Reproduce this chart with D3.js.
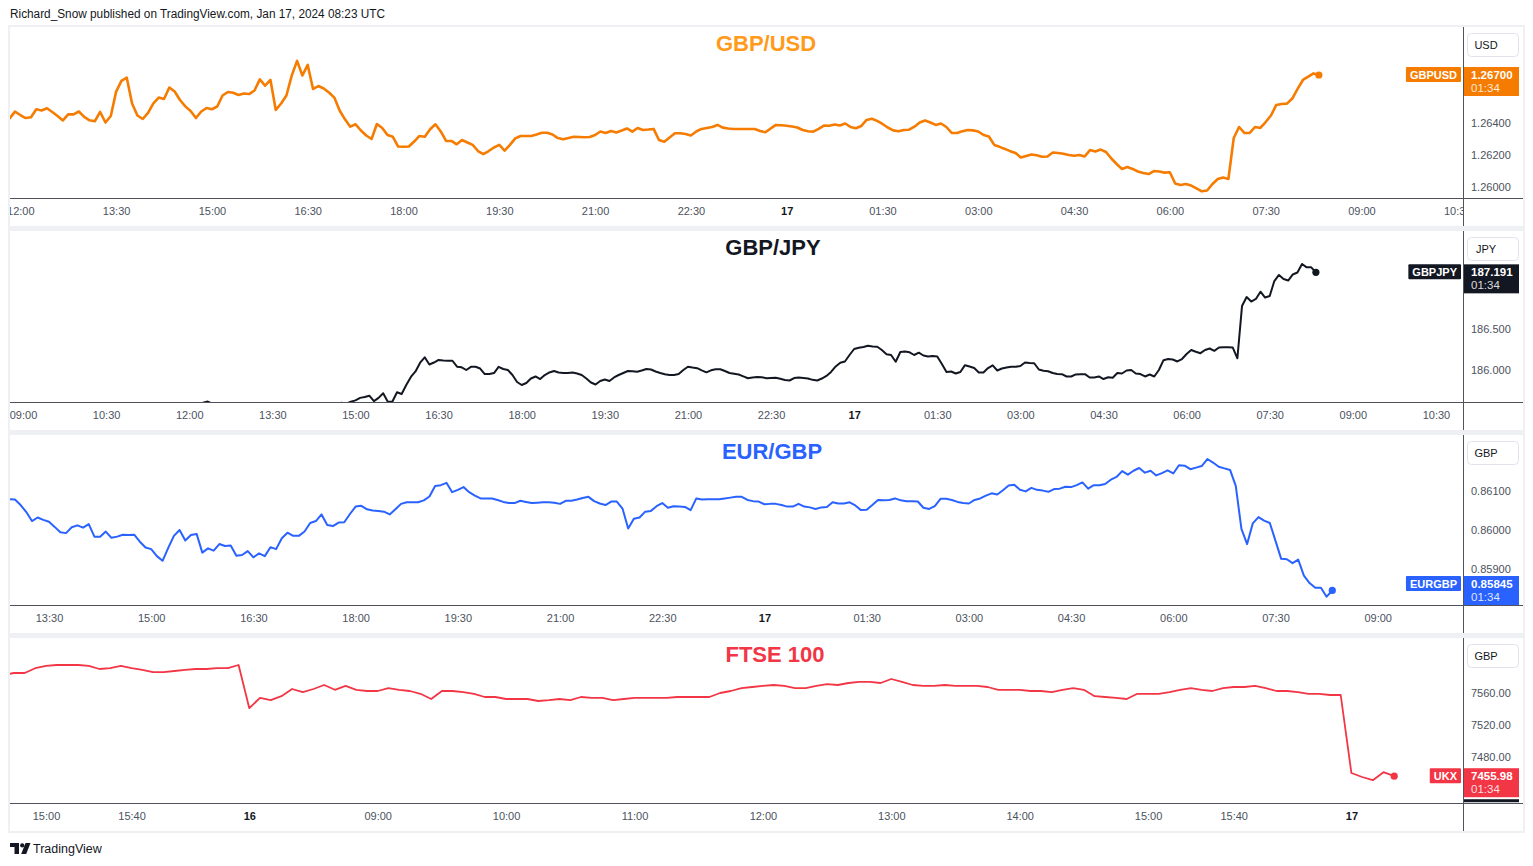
<!DOCTYPE html>
<html>
<head>
<meta charset="utf-8">
<script src="https://cdn.jsdelivr.net/npm/d3@7"></script>
<style>
  html, body { margin: 0; padding: 0; background: #fff; }
  svg { display: block; font-family: "Liberation Sans", Arial, sans-serif; }
</style>
</head>
<body>
<svg id="chart" width="1533" height="866"></svg>
<script>
// ---- data (5-minute closes, minutes counted from Jan 16 00:00 UTC) ----
const usdStart = 710;
const usdValues = [
  1.26429,1.26471,1.26450,1.26431,1.26436,1.26486,1.26478,1.26492,1.26469,1.26444,
  1.26416,1.26454,1.26454,1.26472,1.26438,1.26417,1.26411,1.26469,1.26403,1.26444,
  1.26596,1.26663,1.26683,1.26522,1.26447,1.26425,1.26463,1.26523,1.26559,1.26550,
  1.26622,1.26597,1.26544,1.26504,1.26475,1.26431,1.26472,1.26494,1.26486,1.26503,
  1.26572,1.26594,1.26589,1.26575,1.26584,1.26581,1.26603,1.26673,1.26633,1.26669,
  1.26481,1.26522,1.26572,1.26696,1.26788,1.26697,1.26763,1.26613,1.26631,1.26616,
  1.26591,1.26559,1.26478,1.26423,1.26377,1.26392,1.26353,1.26322,1.26300,1.26394,
  1.26369,1.26325,1.26314,1.26253,1.26252,1.26253,1.26284,1.26319,1.26314,1.26361,
  1.26392,1.26347,1.26288,1.26288,1.26267,1.26294,1.26278,1.26263,1.26225,1.26206,
  1.26225,1.26247,1.26263,1.26227,1.26263,1.26304,1.26319,1.26319,1.26319,1.26328,
  1.26339,1.26339,1.26328,1.26306,1.26298,1.26306,1.26314,1.26313,1.26311,1.26313,
  1.26325,1.26347,1.26338,1.26350,1.26341,1.26353,1.26366,1.26346,1.26369,1.26356,
  1.26359,1.26363,1.26294,1.26283,1.26309,1.26336,1.26336,1.26331,1.26322,1.26347,
  1.26363,1.26369,1.26375,1.26388,1.26371,1.26366,1.26363,1.26363,1.26363,1.26363,
  1.26363,1.26350,1.26342,1.26366,1.26388,1.26386,1.26383,1.26378,1.26372,1.26356,
  1.26348,1.26346,1.26363,1.26384,1.26383,1.26391,1.26384,1.26397,1.26375,1.26367,
  1.26381,1.26419,1.26427,1.26413,1.26394,1.26372,1.26354,1.26348,1.26356,1.26358,
  1.26377,1.26403,1.26416,1.26403,1.26388,1.26397,1.26375,1.26338,1.26338,1.26348,
  1.26356,1.26354,1.26347,1.26325,1.26316,1.26263,1.26251,1.26238,1.26224,1.26213,
  1.26184,1.26194,1.26203,1.26198,1.26189,1.26191,1.26216,1.26213,1.26208,1.26200,
  1.26195,1.26200,1.26191,1.26231,1.26222,1.26234,1.26219,1.26178,1.26144,1.26113,
  1.26125,1.26113,1.26097,1.26088,1.26081,1.26100,1.26097,1.26090,1.26092,1.26022,
  1.26013,1.26019,1.26009,1.25991,1.25973,1.25978,1.26019,1.26050,1.26059,1.26050,
  1.26306,1.26375,1.26338,1.26338,1.26375,1.26369,1.26406,1.26447,1.26513,1.26519,
  1.26521,1.26553,1.26613,1.26669,1.26690,1.26710,1.26700
];
const usdTickMins = [720,810,900,990,1080,1170,1260,1350,1440,1530,1620,1710,1800,1890,1980,2070];
const usdTickLabels = ["12:00","13:30","15:00","16:30","18:00","19:30","21:00","22:30","17","01:30","03:00","04:30","06:00","07:30","09:00","10:30"];
const usdPriceTicks = [1.260, 1.262, 1.264, 1.266, 1.268];

const jpyStart = 720;
const jpyValues = [
  185.560,185.570,185.580,185.600,185.615,185.590,185.57,185.55,185.54,185.56,
  185.55,185.53,185.52,185.54,185.55,185.53,185.54,185.56,185.55,185.57,
  185.56,185.54,185.55,185.57,185.58,185.56,185.57,185.55,185.56,185.58,
  185.57,185.59,185.58,185.60,185.59,185.613,185.630,185.660,185.670,185.687,
  185.620,185.660,185.716,185.613,185.616,185.728,185.707,185.817,185.915,185.982,
  186.089,186.155,186.067,186.091,186.122,186.116,186.113,186.113,186.040,186.033,
  186.000,186.039,186.040,186.018,185.951,185.951,185.963,186.038,186.012,186.000,
  185.939,185.854,185.817,185.841,185.896,185.921,185.890,185.939,185.970,185.988,
  185.970,185.963,185.963,185.970,185.957,185.939,185.896,185.848,185.823,185.866,
  185.884,185.866,185.909,185.939,185.963,185.988,185.984,185.979,185.994,186.012,
  186.006,185.982,185.963,185.948,185.939,185.939,185.951,186.000,186.040,186.030,
  186.022,185.996,185.972,185.996,186.009,186.009,185.988,185.963,185.954,185.945,
  185.923,185.900,185.909,185.915,185.912,185.900,185.902,185.905,185.893,185.878,
  185.872,185.902,185.909,185.902,185.896,185.880,185.872,185.896,185.927,185.976,
  186.043,186.088,186.104,186.183,186.256,186.271,186.280,186.296,186.287,186.283,
  186.244,186.193,186.183,186.101,186.220,186.226,186.216,186.183,186.211,186.177,
  186.165,186.171,186.165,186.073,185.976,185.982,185.957,185.976,186.059,186.043,
  186.024,185.970,185.970,186.024,186.057,185.994,186.018,186.030,186.040,186.040,
  186.049,186.091,186.085,186.082,186.006,185.990,185.985,185.963,185.951,185.949,
  185.921,185.921,185.946,185.949,185.949,185.909,185.909,185.921,185.890,185.911,
  185.906,185.963,185.957,185.994,186.000,185.957,185.951,185.921,185.945,185.921,
  186.000,186.120,186.134,186.128,186.104,186.134,186.195,186.244,186.222,186.205,
  186.244,186.262,186.234,186.274,186.277,186.277,186.274,186.143,186.780,186.890,
  186.835,186.866,186.955,186.884,186.902,187.085,187.159,187.110,187.091,187.165,
  187.189,187.293,187.252,187.252,187.191
];
const jpyTickMins = [540,630,720,810,900,990,1080,1170,1260,1350,1440,1530,1620,1710,1800,1890,1980,2070];
const jpyTickLabels = ["09:00","10:30","12:00","13:30","15:00","16:30","18:00","19:30","21:00","22:30","17","01:30","03:00","04:30","06:00","07:30","09:00","10:30"];
const jpyPriceTicks = [186.0, 186.5, 187.0, 187.5];

const eurStart = 775;
const eurValues = [
  0.86079,0.86078,0.86064,0.86046,0.86023,0.86032,0.86026,0.86021,0.86008,0.85994,
  0.85992,0.86007,0.86012,0.86006,0.86015,0.85983,0.85983,0.85996,0.85980,0.85983,
  0.85988,0.85987,0.85988,0.85970,0.85955,0.85951,0.85933,0.85921,0.85954,0.85985,
  0.86000,0.85973,0.85987,0.85990,0.85942,0.85953,0.85947,0.85964,0.85959,0.85960,
  0.85934,0.85936,0.85946,0.85930,0.85940,0.85933,0.85956,0.85951,0.85979,0.85993,
  0.85985,0.85985,0.85996,0.86018,0.86023,0.86040,0.86013,0.86010,0.86019,0.86020,
  0.86041,0.86060,0.86062,0.86053,0.86050,0.86049,0.86047,0.86040,0.86053,0.86067,
  0.86071,0.86071,0.86071,0.86076,0.86086,0.86113,0.86115,0.86121,0.86097,0.86103,
  0.86110,0.86097,0.86088,0.86081,0.86081,0.86081,0.86077,0.86072,0.86069,0.86069,
  0.86075,0.86072,0.86069,0.86070,0.86071,0.86071,0.86070,0.86067,0.86075,0.86075,
  0.86078,0.86082,0.86085,0.86074,0.86068,0.86064,0.86073,0.86073,0.86055,0.86004,
  0.86029,0.86032,0.86047,0.86049,0.86061,0.86069,0.86057,0.86061,0.86060,0.86059,
  0.86051,0.86081,0.86078,0.86079,0.86079,0.86079,0.86081,0.86083,0.86085,0.86085,
  0.86077,0.86074,0.86073,0.86066,0.86067,0.86067,0.86064,0.86060,0.86060,0.86067,
  0.86060,0.86058,0.86054,0.86058,0.86059,0.86071,0.86068,0.86068,0.86071,0.86063,
  0.86051,0.86052,0.86064,0.86077,0.86076,0.86077,0.86081,0.86076,0.86074,0.86074,
  0.86073,0.86057,0.86054,0.86061,0.86080,0.86080,0.86077,0.86072,0.86069,0.86068,
  0.86077,0.86081,0.86088,0.86094,0.86091,0.86102,0.86114,0.86116,0.86103,0.86099,
  0.86108,0.86103,0.86101,0.86098,0.86105,0.86106,0.86111,0.86110,0.86115,0.86122,
  0.86106,0.86115,0.86115,0.86118,0.86129,0.86136,0.86151,0.86142,0.86152,0.86159,
  0.86147,0.86152,0.86140,0.86146,0.86153,0.86145,0.86166,0.86165,0.86156,0.86160,
  0.86164,0.86182,0.86173,0.86162,0.86158,0.86154,0.86113,0.86003,0.85964,0.86017,
  0.86033,0.86024,0.86018,0.85972,0.85926,0.85925,0.85915,0.85924,0.85883,0.85864,
  0.85852,0.85852,0.85829,0.85845
];
const eurTickMins = [810,900,990,1080,1170,1260,1350,1440,1530,1620,1710,1800,1890,1980];
const eurTickLabels = ["13:30","15:00","16:30","18:00","19:30","21:00","22:30","17","01:30","03:00","04:30","06:00","07:30","09:00"];
const eurPriceTicks = [0.859, 0.860, 0.861, 0.862];

// FTSE 100: 5-minute bars counted in session bars (bar 0 = Jan 15 15:00)
const ftseStart = -4;
const ftseValues = [
  7582.50,7585.00,7585.00,7591.00,7594.00,7595.00,7595.00,7595.00,7594.00,7590.00,
  7591.00,7594.00,7591.00,7589.00,7586.00,7586.00,7587.50,7589.00,7590.00,7590.00,
  7591.00,7591.00,7595.00,7541.00,7554.00,7551.00,7556.00,7565.00,7561.00,7565.00,
  7570.00,7564.00,7569.00,7564.00,7562.50,7562.50,7566.00,7564.00,7562.50,7559.00,
  7552.50,7562.50,7562.50,7561.00,7559.00,7555.00,7555.00,7552.50,7552.50,7552.50,
  7550.00,7551.00,7552.50,7551.00,7555.00,7554.00,7554.00,7551.00,7552.50,7554.00,
  7554.00,7554.00,7554.00,7555.00,7555.00,7555.00,7555.00,7560.00,7562.50,7566.00,
  7567.50,7569.00,7570.00,7569.00,7566.00,7566.00,7569.00,7571.00,7570.00,7572.50,
  7574.00,7574.00,7572.50,7577.50,7574.00,7570.00,7569.00,7569.00,7570.00,7569.00,
  7569.00,7569.00,7567.50,7564.00,7564.00,7564.00,7562.50,7562.50,7561.00,7564.00,
  7566.00,7564.00,7556.00,7555.00,7554.00,7552.50,7559.00,7559.00,7559.00,7561.00,
  7564.00,7566.00,7564.00,7562.50,7566.00,7567.50,7567.50,7569.00,7566.00,7562.50,
  7562.50,7561.00,7559.00,7559.00,7557.50,7557.50,7460.00,7455.00,7451.00,7461.00,
  7455.98
];
const ftseTickBars = [0,8,19,31,43,55,67,79,91,103,111,122];
const ftseTickLabels = ["15:00","15:40","16","09:00","10:00","11:00","12:00","13:00","14:00","15:00","15:40","17"];
const ftsePriceTicks = [7440, 7480, 7520, 7560, 7600];

// ---- layout ----
const LEFT = 10, SEP = 1463, RIGHT = 1523;
const dayLabels = new Set(["16", "17"]);

const panels = [
  { title: "GBP/USD", titleX: 766, titleColor: "#ff9a1a", color: "#f57c00", lw: 2.6,
    top: 27, axis: 198, bottom: 226, values: usdValues, start: usdStart, step: 5,
    xDomain: [710.3, 2075.4], yDomain: [1.259313, 1.27],
    ticks: usdTickMins, tickLabels: usdTickLabels, priceTicks: usdPriceTicks, fmt: d3.format(".5f"),
    currency: "USD", symbol: "GBPUSD", lastText: "1.26700" },
  { title: "GBP/JPY", titleX: 773, titleColor: "#131722", color: "#131722", lw: 2,
    top: 231, axis: 402, bottom: 430, values: jpyValues, start: jpyStart, step: 5,
    xDomain: [525.9, 2099.3], yDomain: [185.6098, 187.6951],
    ticks: jpyTickMins, tickLabels: jpyTickLabels, priceTicks: jpyPriceTicks, fmt: d3.format(".3f"),
    currency: "JPY", symbol: "GBPJPY", lastText: "187.191" },
  { title: "EUR/GBP", titleX: 772, titleColor: "#2962ff", color: "#2962ff", lw: 2,
    top: 435, axis: 605, bottom: 633, values: eurValues, start: eurStart, step: 5,
    xDomain: [775.66, 2055.1], yDomain: [0.858077, 0.862436],
    ticks: eurTickMins, tickLabels: eurTickLabels, priceTicks: eurPriceTicks, fmt: d3.format(".5f"),
    currency: "GBP", symbol: "EURGBP", lastText: "0.85845" },
  { title: "FTSE 100", titleX: 775, titleColor: "#f23645", color: "#f23645", lw: 1.8,
    top: 638, axis: 803, bottom: 831, values: ftseValues, start: ftseStart, step: 1,
    xDomain: [-3.364, 132.43], yDomain: [7422.5, 7628.75],
    ticks: ftseTickBars, tickLabels: ftseTickLabels, priceTicks: ftsePriceTicks, fmt: d3.format(".2f"),
    currency: "GBP", symbol: "UKX", lastText: "7455.98", underline: true }
];

const svg = d3.select("#chart");
const defs = svg.append("defs");

// outer light frame
svg.append("rect").attr("x", 8).attr("y", 25).attr("width", RIGHT - 8 + 2).attr("height", 833 - 25)
  .attr("fill", "#eef0f4");

svg.append("text").attr("x", 10).attr("y", 18)
  .attr("font-size", 12).attr("fill", "#131722")
  .attr("textLength", 375).attr("lengthAdjust", "spacingAndGlyphs")
  .text("Richard_Snow published on TradingView.com, Jan 17, 2024 08:23 UTC");

panels.forEach((p, pi) => {
  const g = svg.append("g");
  g.append("rect").attr("x", LEFT).attr("y", p.top)
    .attr("width", RIGHT - LEFT).attr("height", p.bottom - p.top).attr("fill", "#fff");

  const x = d3.scaleLinear().domain(p.xDomain).range([LEFT, SEP]);
  const y = d3.scaleLinear().domain(p.yDomain).range([p.axis, p.top]);

  // clips
  defs.append("clipPath").attr("id", "plot" + pi).append("rect")
    .attr("x", LEFT).attr("y", p.top).attr("width", SEP - LEFT).attr("height", p.axis - p.top);
  defs.append("clipPath").attr("id", "time" + pi).append("rect")
    .attr("x", LEFT).attr("y", p.axis).attr("width", SEP - LEFT).attr("height", p.bottom - p.axis);

  // title
  g.append("text").attr("x", p.titleX).attr("y", p.top + 24)
    .attr("text-anchor", "middle").attr("font-size", 22).attr("font-weight", "bold")
    .attr("fill", p.titleColor).text(p.title);

  // series line
  const pts = p.values.map((v, i) => [p.start + i * p.step, v]);
  const line = d3.line().x(d => x(d[0])).y(d => y(d[1]));
  const plot = g.append("g").attr("clip-path", `url(#plot${pi})`);
  plot.append("path").datum(pts).attr("d", line)
    .attr("fill", "none").attr("stroke", p.color).attr("stroke-width", p.lw)
    .attr("stroke-linejoin", "round").attr("stroke-linecap", "round");
  const last = pts[pts.length - 1];
  plot.append("circle").attr("cx", x(last[0])).attr("cy", y(last[1])).attr("r", 3.6)
    .attr("fill", p.color);

  // time axis
  const tAxis = d3.axisBottom(x).tickValues(p.ticks)
    .tickFormat((d, i) => p.tickLabels[i]).tickSize(0).tickPadding(9);
  const tg = g.append("g").attr("clip-path", `url(#time${pi})`)
    .append("g").attr("transform", `translate(0,${p.axis})`).call(tAxis);
  tg.select(".domain").remove();
  tg.selectAll("text").attr("font-size", 11).attr("font-family", "Liberation Sans, Arial, sans-serif")
    .attr("font-weight", (d, i) => dayLabels.has(p.tickLabels[i]) ? "bold" : "normal")
    .attr("fill", (d, i) => dayLabels.has(p.tickLabels[i]) ? "#131722" : "#4c525e");

  // last price label position (clamped to the pane)
  const ly = y(last[1]);
  const boxTop = Math.min(ly - 8, p.axis - 29);

  // price axis: labels hidden by the currency box or the price box are left out
  const shown = p.priceTicks.filter(v => {
    const ty = y(v);
    return ty > p.top + 36 && ty < p.axis - 5 && (ty < boxTop - 6 || ty > boxTop + 35);
  });
  const pAxis = d3.axisRight(y).tickValues(shown).tickFormat(p.fmt).tickSize(0).tickPadding(8);
  const pg = g.append("g").attr("transform", `translate(${SEP},0)`).call(pAxis);
  pg.select(".domain").remove();
  pg.selectAll("text").attr("font-size", 11).attr("fill", "#4c525e")
    .attr("font-family", "Liberation Sans, Arial, sans-serif");

  // separators
  g.append("line").attr("x1", LEFT).attr("x2", RIGHT).attr("y1", p.axis + 0.5).attr("y2", p.axis + 0.5)
    .attr("stroke", "#50535e").attr("stroke-width", 1);
  g.append("line").attr("x1", SEP + 0.5).attr("x2", SEP + 0.5).attr("y1", p.top).attr("y2", p.bottom)
    .attr("stroke", "#50535e").attr("stroke-width", 1);

  // currency box
  g.append("rect").attr("x", 1467.5).attr("y", p.top + 6.5).attr("width", 51).attr("height", 23)
    .attr("rx", 4).attr("fill", "#fff").attr("stroke", "#e0e3eb");
  g.append("text").attr("x", 1486).attr("y", p.top + 22).attr("text-anchor", "middle")
    .attr("font-size", 11).attr("fill", "#131722").text(p.currency);

  // last price label
  g.append("rect").attr("x", 1464).attr("y", boxTop).attr("width", 55).attr("height", 29)
    .attr("fill", p.color);
  g.append("text").attr("x", 1471).attr("y", boxTop + 11.5).attr("font-size", 11.5)
    .attr("font-weight", "bold").attr("fill", "#fff").text(p.lastText);
  g.append("text").attr("x", 1471).attr("y", boxTop + 25).attr("font-size", 11.5)
    .attr("fill", "#fff").attr("fill-opacity", 0.85).text("01:34");
  if (p.underline) {
    g.append("rect").attr("x", 1464).attr("y", boxTop + 31).attr("width", 55).attr("height", 3)
      .attr("fill", "#131722");
  }

  // symbol tag left of the axis
  const tagRect = g.append("rect").attr("y", boxTop).attr("height", 15).attr("rx", 1)
    .attr("fill", p.color);
  const tag = g.append("text").attr("y", boxTop + 11.5).attr("font-size", 11).attr("font-weight", "bold")
    .attr("fill", "#fff").text(p.symbol);
  const tw = tag.node().getComputedTextLength();
  tagRect.attr("x", 1461 - tw - 8).attr("width", tw + 8);
  tag.attr("x", 1461 - tw - 4);
});

// footer logo
const logo = svg.append("g").attr("fill", "#131722");
logo.append("path").attr("d", "M10,843 h9 v11 h-4.5 v-7 h-4.5 z");
logo.append("circle").attr("cx", 22.2).attr("cy", 845.4).attr("r", 2.1);
logo.append("path").attr("d", "M25.5,843 h5 l-4.3,11 h-5 z");
svg.append("text").attr("x", 33).attr("y", 853).attr("font-size", 12.5).attr("fill", "#131722")
  .text("TradingView");
</script>
</body>
</html>
